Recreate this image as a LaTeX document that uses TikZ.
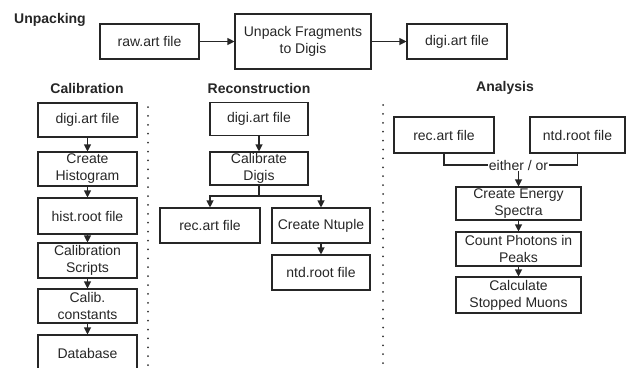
\documentclass[tikz,border=0pt]{standalone}
\usepackage{fontspec}
\setmainfont{Liberation Sans}
\usetikzlibrary{arrows.meta}
\begin{document}
\begin{tikzpicture}[x=1pt,y=-1pt,
  box/.style={draw=black!85,line width=1.1pt,rectangle,align=center,inner sep=0pt,
    font=\fontsize{14}{17}\selectfont,text=black!85},
  ttl/.style={font=\fontsize{14}{17}\selectfont\bfseries,text=black!85,inner sep=0pt},
  arr/.style={draw=black!85,line width=1.1pt,-{Triangle[length=7pt,width=7pt]}},
  ln/.style={draw=black!85,line width=1.1pt},
  dots/.style={draw=black!80,line width=2pt,line cap=round,dash pattern=on 0pt off 8.9pt}]
\useasboundingbox (0,0) rectangle (626,367);
% titles
\node[ttl] (tU) at (50,20) {Unpacking};
\node[ttl] (tC) at (87,88) {Calibration};
\node[ttl] (tR) at (259,88) {Reconstruction};
\node[ttl] (tA) at (505,88) {Analysis};
% unpacking
\node[box,minimum width=99pt,minimum height=35pt] (raw) at (149.5,41.5) {raw.art file};
\node[box,minimum width=136pt,minimum height=55pt] (unp) at (303,41.5) {Unpack Fragments\\to Digis};
\node[box,minimum width=100pt,minimum height=35pt] (dig0) at (457,41.5) {digi.art file};
\draw[arr] (raw) -- (unp);
\draw[arr] (unp) -- (dig0);
% calibration
\node[box,minimum width=99pt,minimum height=34pt] (c1) at (87.5,120) {digi.art file};
\node[box,minimum width=99pt,minimum height=34pt] (c2) at (87.5,169) {Create\\Histogram};
\node[box,minimum width=99pt,minimum height=36pt] (c3) at (87.5,216) {hist.root file};
\node[box,minimum width=99pt,minimum height=35pt] (c4) at (87.5,260.5) {Calibration\\Scripts};
\node[box,minimum width=99pt,minimum height=34pt] (c5) at (87.5,306) {Calib.\\constants};
\node[box,minimum width=99pt,minimum height=36pt] (c6) at (87.5,353) {Database};
\draw[arr] (c1) -- (c2);
\draw[arr] (c2) -- (c3);
\draw[arr] (c3) -- (c4);
\draw[arr] (c4) -- (c5);
\draw[arr] (c5) -- (c6);
% separators
\coordinate (d1a) at (148,107);
\coordinate (d1b) at (148,368);
\coordinate (d2a) at (383,105);
\coordinate (d2b) at (383,368);
\draw[dots] (d1a) -- (d1b);
\draw[dots] (d2a) -- (d2b);
% reconstruction
\node[box,minimum width=98pt,minimum height=33pt] (r1) at (259,119) {digi.art file};
\node[box,minimum width=98pt,minimum height=33pt] (r2) at (259,168.5) {Calibrate\\Digis};
\node[box,minimum width=100pt,minimum height=35pt] (r3) at (210,225.5) {rec.art file};
\node[box,minimum width=98pt,minimum height=35pt] (r4) at (321,225.5) {Create Ntuple};
\node[box,minimum width=98pt,minimum height=35pt] (r5) at (321,272.5) {ntd.root file};
\coordinate (split) at (259,196);
\draw[arr] (r1) -- (r2);
\draw[ln] (r2.south) -- (split);
\draw[arr] (split) -| (r3.north);
\draw[arr] (split) -| (r4.north);
\draw[arr] (r4) -- (r5);
% analysis
\node[box,minimum width=100pt,minimum height=36pt] (a1) at (444,135) {rec.art file};
\node[box,minimum width=95pt,minimum height=36pt] (a2) at (577.5,135) {ntd.root file};
\node[box,minimum width=125pt,minimum height=33pt] (a3) at (518.5,203.5) {Create Energy\\Spectra};
\node[box,minimum width=125pt,minimum height=34pt] (a4) at (518.5,249) {Count Photons in\\Peaks};
\node[box,minimum width=125pt,minimum height=36pt] (a5) at (518.5,295) {Calculate\\Stopped Muons};
\coordinate (eo) at (518.5,165);
\draw[ln] (a1.south) |- (eo);
\draw[ln] (a2.south) |- (eo);
\node[fill=white,inner sep=1pt,font=\fontsize{14}{17}\selectfont,text=black!85] (eol) at (eo) {either / or};
\draw[arr] (eol.south) -- (a3.north);
\draw[arr] (a3) -- (a4);
\draw[arr] (a4) -- (a5);
\end{tikzpicture}
\end{document}
